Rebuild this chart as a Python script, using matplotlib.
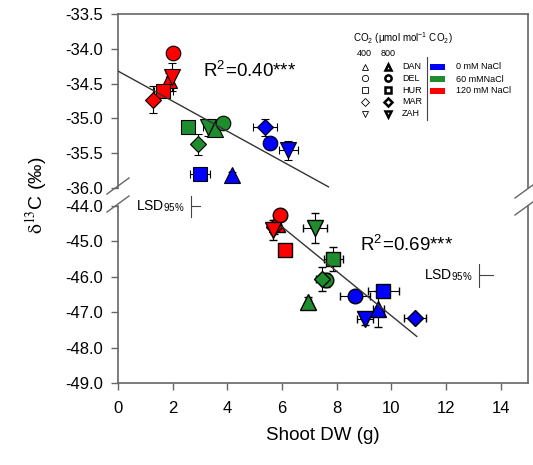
import matplotlib
matplotlib.use('Agg')
import matplotlib.pyplot as plt
import numpy as np
from matplotlib.lines import Line2D
from matplotlib.patches import Rectangle

plt.rcParams['font.family'] = ['Liberation Sans', 'DejaVu Sans']
plt.rcParams['mathtext.fontset'] = 'stix'
plt.rcParams['axes.unicode_minus'] = False

genotypes = ['DAN', 'DEL', 'HUR', 'MAR', 'ZAH']
markers = ['^', 'o', 's', 'D', 'v']
salt_labels = ['0 mM NaCl', '60 mMNaCl', '120 mM NaCl']
salt_colors = ['#0000ff', '#1f8c2e', '#ff0000']

# upper panel: 400 ppm CO2 ; rows = salt (0, 60, 120 mM), cols = genotype
x400 = [[4.16, 5.56, 3.00, 5.38, 6.23],
        [3.55, 3.85, 2.57, 2.94, 3.30],
        [1.85, 2.02, 1.66, 1.29, 1.96]]
y400 = [[-35.82, -35.35, -35.80, -35.13, -35.46],
        [-35.15, -35.06, -35.13, -35.37, -35.13],
        [-34.45, -34.06, -34.61, -34.73, -34.40]]
xerr400 = [[0.10, 0.15, 0.37, 0.43, 0.35],
           [0.10, 0.15, 0.10, 0.10, 0.20],
           [0.10, 0.10, 0.35, 0.10, 0.10]]
yerr400 = [[0.05, 0.06, 0.05, 0.12, 0.14],
           [0.06, 0.06, 0.05, 0.15, 0.12],
           [0.10, 0.05, 0.06, 0.19, 0.20]]

# lower panel: 800 ppm CO2
x800 = [[9.52, 8.67, 9.71, 10.87, 9.04],
        [6.96, 7.60, 7.88, 7.45, 7.21],
        [5.80, 5.93, 6.11, 5.70, 5.68]]
y800 = [[-46.91, -46.53, -46.39, -47.15, -47.20],
        [-46.72, -46.10, -45.49, -46.06, -44.63],
        [-44.50, -44.25, -45.25, -44.60, -44.68]]
xerr800 = [[0.20, 0.55, 0.58, 0.40, 0.30],
           [0.10, 0.20, 0.36, 0.20, 0.43],
           [0.10, 0.20, 0.10, 0.10, 0.10]]
yerr800 = [[0.52, 0.10, 0.15, 0.10, 0.15],
           [0.15, 0.20, 0.34, 0.33, 0.42],
           [0.20, 0.10, 0.10, 0.20, 0.28]]

# regression lines (intercept, slope, x range)
fit400 = (-34.32, -0.216, [0.0, 7.7])
fit800 = (-40.82, -0.628, [5.99, 10.93])
r2_text = ['R$^{\\mathregular{2}}$=0.40***', 'R$^{\\mathregular{2}}$=0.69***']

# LSD95% bars (x, y centre, y length, x length)
lsd400 = (2.67, -36.26, 0.30, 0.33)
lsd800 = (13.2, -45.96, 0.66, 0.52)

msize = {'^': 11, 'o': 10.5, 's': 10, 'D': 8.5, 'v': 11}
W, H = 533, 465
spine_col = '#666666'

fig = plt.figure(figsize=(W / 100, H / 100), dpi=100)
ax_up = fig.add_axes([118 / W, 1 - 188 / H, 410 / W, 174 / H])
ax_lo = fig.add_axes([118 / W, 1 - 383 / H, 410 / W, 177 / H])
ax_up.patch.set_visible(False)
ax_lo.patch.set_visible(False)


def fx(px):
    return px / W


def fy(py):
    return 1 - py / H


def draw_points(ax, xs, ys, xe, ye, mew):
    for i in range(3):
        for j in range(5):
            ax.errorbar(xs[i][j], ys[i][j], xerr=xe[i][j], yerr=ye[i][j],
                        fmt=markers[j], ms=msize[markers[j]], mfc=salt_colors[i],
                        mec='black', mew=mew, ecolor='black', elinewidth=0.8,
                        capsize=3, capthick=0.8, zorder=3)


draw_points(ax_up, x400, y400, xerr400, yerr400, 0.8)
draw_points(ax_lo, x800, y800, xerr800, yerr800, 1.0)

for ax, fit in [(ax_up, fit400), (ax_lo, fit800)]:
    xl = np.array(fit[2])
    ax.plot(xl, fit[0] + fit[1] * xl, color='#333333', lw=1.0, zorder=4)

ax_up.text(3.1, -34.32, r2_text[0], fontsize=13.5, va='center', ha='left')
ax_lo.text(8.85, -45.1, r2_text[1], fontsize=13.5, va='center', ha='left')

for ax, lsd in [(ax_up, lsd400), (ax_lo, lsd800)]:
    x0, yc, yl, xl = lsd
    ax.plot([x0, x0], [yc - yl / 2, yc + yl / 2], color='#444444', lw=0.8, clip_on=False)
    ax.plot([x0, x0 + xl], [yc, yc], color='#444444', lw=0.8, clip_on=False)
    ax.text(x0 - 0.25, yc, 'LSD$_{\\mathregular{95\\%}}$', fontsize=10,
            ha='right', va='center', clip_on=False)

# axes styling
for ax in (ax_up, ax_lo):
    ax.set_xlim(0, 15)
    for s in ax.spines.values():
        s.set_color(spine_col)
        s.set_linewidth(1.2)
    ax.tick_params(axis='both', direction='out', length=5, width=1,
                   color=spine_col, labelsize=12, pad=6)

ax_up.set_ylim(-36.0, -33.5)
ax_up.set_yticks(np.arange(-36.0, -33.4, 0.5))
ax_up.set_yticklabels(['%.1f' % v for v in np.arange(-36.0, -33.4, 0.5)])
ax_up.spines['bottom'].set_visible(False)
ax_up.tick_params(axis='x', bottom=False, labelbottom=False)

ax_lo.set_ylim(-49.0, -44.0)
ax_lo.set_yticks(np.arange(-49.0, -43.9, 1.0))
ax_lo.set_yticklabels(['%.1f' % v for v in np.arange(-49.0, -43.9, 1.0)])
ax_lo.spines['top'].set_visible(False)
ax_lo.set_xticks(np.arange(0, 15, 2))
ax_lo.tick_params(axis='x', pad=8)
ax_lo.set_xlabel('Shoot DW (g)', fontsize=13.5, labelpad=8)

fig.text(fx(36), fy(195), '$\\mathrm{\\delta}^{13}$C (‰)', rotation=90, fontsize=14,
         ha='center', va='center')

# break marks
for cx, cy in [(118, 186), (118, 204), (526, 190), (526, 207)]:
    fig.add_artist(Line2D([fx(cx - 11), fx(cx + 11)], [fy(cy + 8), fy(cy - 8)],
                          color=spine_col, lw=1.0))

# legend
fig.text(fx(353), fy(38), 'CO$_{\\mathregular{2}}$ ($\\mathregular{\\mu}$mol mol$^{\\mathregular{-1}}$ CO$_{\\mathregular{2}}$)',
         fontsize=7, va='center', ha='left')
fig.text(fx(364), fy(53), '400', fontsize=6.5, va='center', ha='center')
fig.text(fx(388), fy(53), '800', fontsize=6.5, va='center', ha='center')
row_y = [66.7, 78.5, 90.5, 102, 113.5]
for k in range(5):
    fig.add_artist(Line2D([fx(365)], [fy(row_y[k])], marker=markers[k], ms=4.5,
                          mfc='white', mec='black', mew=0.6, ls='none'))
    fig.add_artist(Line2D([fx(388)], [fy(row_y[k])], marker=markers[k], ms=4.5,
                          mfc='white', mec='black', mew=1.8, ls='none'))
    fig.text(fx(402), fy(row_y[k]), genotypes[k], fontsize=6.5, va='center', ha='left')
fig.add_artist(Line2D([fx(426.7), fx(426.7)], [fy(57), fy(120)], color='#444444', lw=0.8))
for k in range(3):
    yy = [66.7, 79.3, 90.7][k]
    fig.add_artist(Rectangle((fx(430), fy(yy + 3)), 15 / W, 6 / H,
                             facecolor=salt_colors[k], edgecolor='none'))
    fig.text(fx(456), fy(yy), salt_labels[k], fontsize=6.5, va='center', ha='left')

fig.savefig('out.png', dpi=100)
